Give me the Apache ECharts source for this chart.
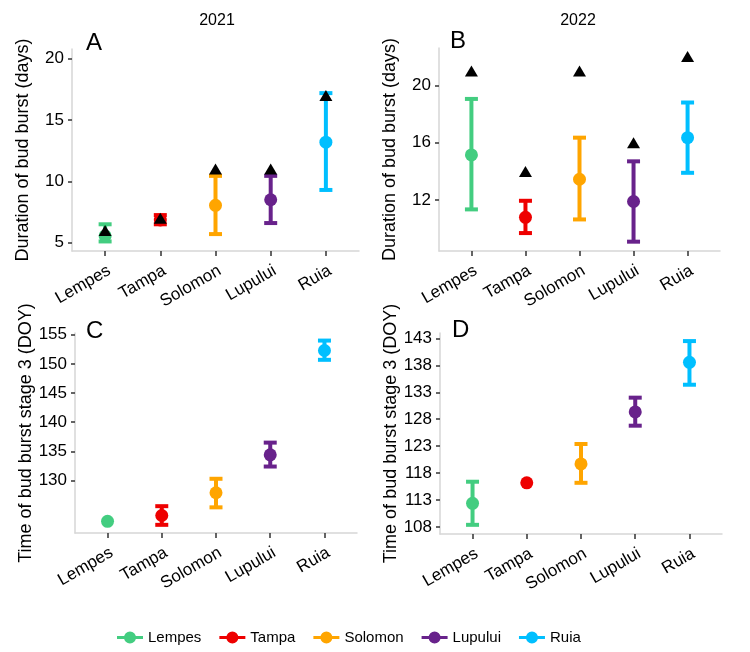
<!DOCTYPE html>
<html>
<head>
<meta charset="utf-8">
<script src="https://cdn.jsdelivr.net/npm/echarts@6/dist/echarts.min.js"></script>
<style>
  html, body { margin: 0; padding: 0; background: #fff; }
  #chart { width: 750px; height: 652px; }
</style>
</head>
<body>
<div id="chart"></div>
<script>
// sites and their colours
const sites = ["Lempes", "Tampa", "Solomon", "Lupului", "Ruia"];
const siteColors = ["#43CD80", "#EE0000", "#FFA500", "#68228B", "#00BFFF"];

// A: duration of bud burst, 2021
const dur2021Mean = [5.55, 6.85, 8.05, 8.5, 13.2];
const dur2021Lo = [5.1, 6.5, 5.7, 6.6, 9.3];
const dur2021Hi = [6.5, 7.25, 10.45, 10.45, 17.2];
const dur2021Max = [6, 7, 11, 11, 17];
const durTicks2021 = [5, 10, 15, 20];

// B: duration of bud burst, 2022
const dur2022Mean = [15.15, 10.8, 13.45, 11.9, 16.35];
const dur2022Lo = [11.35, 9.7, 10.65, 9.1, 13.9];
const dur2022Hi = [19.05, 11.95, 16.35, 14.7, 18.8];
const dur2022Max = [21, 14, 21, 16, 22];
const durTicks2022 = [12, 16, 20];

// C: time of bud burst stage 3, 2021
const doy2021Mean = [123.0, 124.0, 127.9, 134.4, 152.3];
const doy2021Lo = [123.0, 122.4, 125.4, 132.4, 150.7];
const doy2021Hi = [123.0, 125.6, 130.3, 136.5, 154.0];
const doyTicks2021 = [130, 135, 140, 145, 150, 155];

// D: time of bud burst stage 3, 2022
const doy2022Mean = [112.4, 116.2, 119.7, 129.35, 138.55];
const doy2022Lo = [108.4, 116.2, 116.2, 126.8, 134.4];
const doy2022Hi = [116.4, 116.2, 123.4, 132.0, 142.5];
const doyTicks2022 = [108, 113, 118, 123, 128, 133, 138, 143];

const siteTicks = [1, 2, 3, 4, 5];
const font = "'Liberation Sans', Arial, sans-serif";

const panels = [
  { letter: "A", mean: dur2021Mean, lo: dur2021Lo, hi: dur2021Hi, max: dur2021Max,
    ticks: durTicks2021, yMin: 4.32, yMax: 20.8, name: "Duration of bud burst (days)",
    grid: { left: 72, top: 49, width: 287, height: 202 }, lx: 86, ly: 43 },
  { letter: "B", mean: dur2022Mean, lo: dur2022Lo, hi: dur2022Hi, max: dur2022Max,
    ticks: durTicks2022, yMin: 8.45, yMax: 22.6, name: "Duration of bud burst (days)",
    grid: { left: 439, top: 48, width: 281, height: 203 }, lx: 450, ly: 41 },
  { letter: "C", mean: doy2021Mean, lo: doy2021Lo, hi: doy2021Hi, max: null,
    ticks: doyTicks2021, yMin: 121.0, yMax: 155.3, name: "Time of bud burst stage 3 (DOY)",
    grid: { left: 75, top: 333, width: 282, height: 200 }, lx: 86, ly: 331 },
  { letter: "D", mean: doy2022Mean, lo: doy2022Lo, hi: doy2022Hi, max: null,
    ticks: doyTicks2022, yMin: 106.7, yMax: 144.0, name: "Time of bud burst stage 3 (DOY)",
    grid: { left: 440, top: 333, width: 282, height: 201 }, lx: 452, ly: 330 }
];

function renderErrorBar(params, api) {
  const x = api.value(0);
  const lo = api.coord([x, api.value(1)]);
  const hi = api.coord([x, api.value(2)]);
  const half = 6.5;
  const style = { stroke: siteColors[params.dataIndex], lineWidth: 4 };
  if (api.value(2) <= api.value(1)) return null;
  return {
    type: "group",
    children: [
      { type: "line", shape: { x1: lo[0], y1: lo[1], x2: hi[0], y2: hi[1] }, style: style },
      { type: "line", shape: { x1: lo[0] - half, y1: lo[1], x2: lo[0] + half, y2: lo[1] }, style: style },
      { type: "line", shape: { x1: hi[0] - half, y1: hi[1], x2: hi[0] + half, y2: hi[1] }, style: style }
    ]
  };
}

let grids = [], xAxes = [], yAxes = [], series = [], graphics = [];

panels.forEach((p, i) => {
  grids.push(p.grid);
  xAxes.push({
    type: "value", gridIndex: i, min: 0.4, max: 5.6,
    splitLine: { show: false },
    axisLine: { show: true, lineStyle: { color: "#d6d6d6", width: 1.5 } },
    axisTick: { show: true, customValues: siteTicks, length: 5, lineStyle: { color: "#333", width: 1.5 } },
    axisLabel: {
      customValues: siteTicks, rotate: 30, margin: 11, fontSize: 17, color: "#000", fontFamily: font,
      align: "right", verticalAlign: "top",
      formatter: v => sites[Math.round(v) - 1] || ""
    }
  });
  yAxes.push({
    type: "value", gridIndex: i, min: p.yMin, max: p.yMax,
    splitLine: { show: false },
    axisLine: { show: true, lineStyle: { color: "#d6d6d6", width: 1.5 } },
    axisTick: { show: true, customValues: p.ticks, length: 4, lineStyle: { color: "#333", width: 1.5 } },
    axisLabel: { customValues: p.ticks, margin: 8, fontSize: 17, color: "#000", fontFamily: font },
    name: p.name, nameLocation: "middle", nameGap: 40,
    nameTextStyle: { fontSize: 18, color: "#000", fontFamily: font }
  });

  series.push({
    type: "custom", xAxisIndex: i, yAxisIndex: i, z: 2,
    renderItem: renderErrorBar,
    data: sites.map((s, j) => [j + 1, p.lo[j], p.hi[j]])
  });
  sites.forEach((s, j) => {
    series.push({
      type: "scatter", name: s, xAxisIndex: i, yAxisIndex: i, z: 3,
      symbol: "circle", symbolSize: 13,
      itemStyle: { color: siteColors[j], opacity: 1 },
      data: [[j + 1, p.mean[j]]]
    });
  });
  if (p.max) {
    series.push({
      type: "scatter", xAxisIndex: i, yAxisIndex: i, z: 4,
      symbol: "triangle", symbolSize: [13, 11],
      itemStyle: { color: "#000", opacity: 1 },
      data: sites.map((s, j) => [j + 1, p.max[j]])
    });
  }

  graphics.push({
    type: "text", x: p.lx, y: p.ly,
    style: { text: p.letter, font: "24px " + font, fill: "#000", verticalAlign: "middle" }
  });
});

graphics.push(
  { type: "text", x: 217, y: 21, style: { text: "2021", font: "16px " + font, fill: "#000", align: "center", verticalAlign: "middle" } },
  { type: "text", x: 578, y: 21, style: { text: "2022", font: "16px " + font, fill: "#000", align: "center", verticalAlign: "middle" } }
);

const legendIcon = "path://M0,4.5h26v3h-26z M19,6a6,6 0 1 1 -12,0a6,6 0 1 1 12,0z";

const option = {
  animation: false,
  textStyle: { fontFamily: font },
  grid: grids,
  xAxis: xAxes,
  yAxis: yAxes,
  series: series,
  graphic: graphics,
  legend: {
    data: sites.map(s => ({ name: s, icon: legendIcon })),
    left: 117, top: 630, padding: 0,
    itemWidth: 26, itemHeight: 12, itemGap: 18,
    textStyle: { fontSize: 15, color: "#000", fontFamily: font }
  }
};

const myChart = echarts.init(document.getElementById("chart"));
myChart.setOption(option);
</script>
</body>
</html>
